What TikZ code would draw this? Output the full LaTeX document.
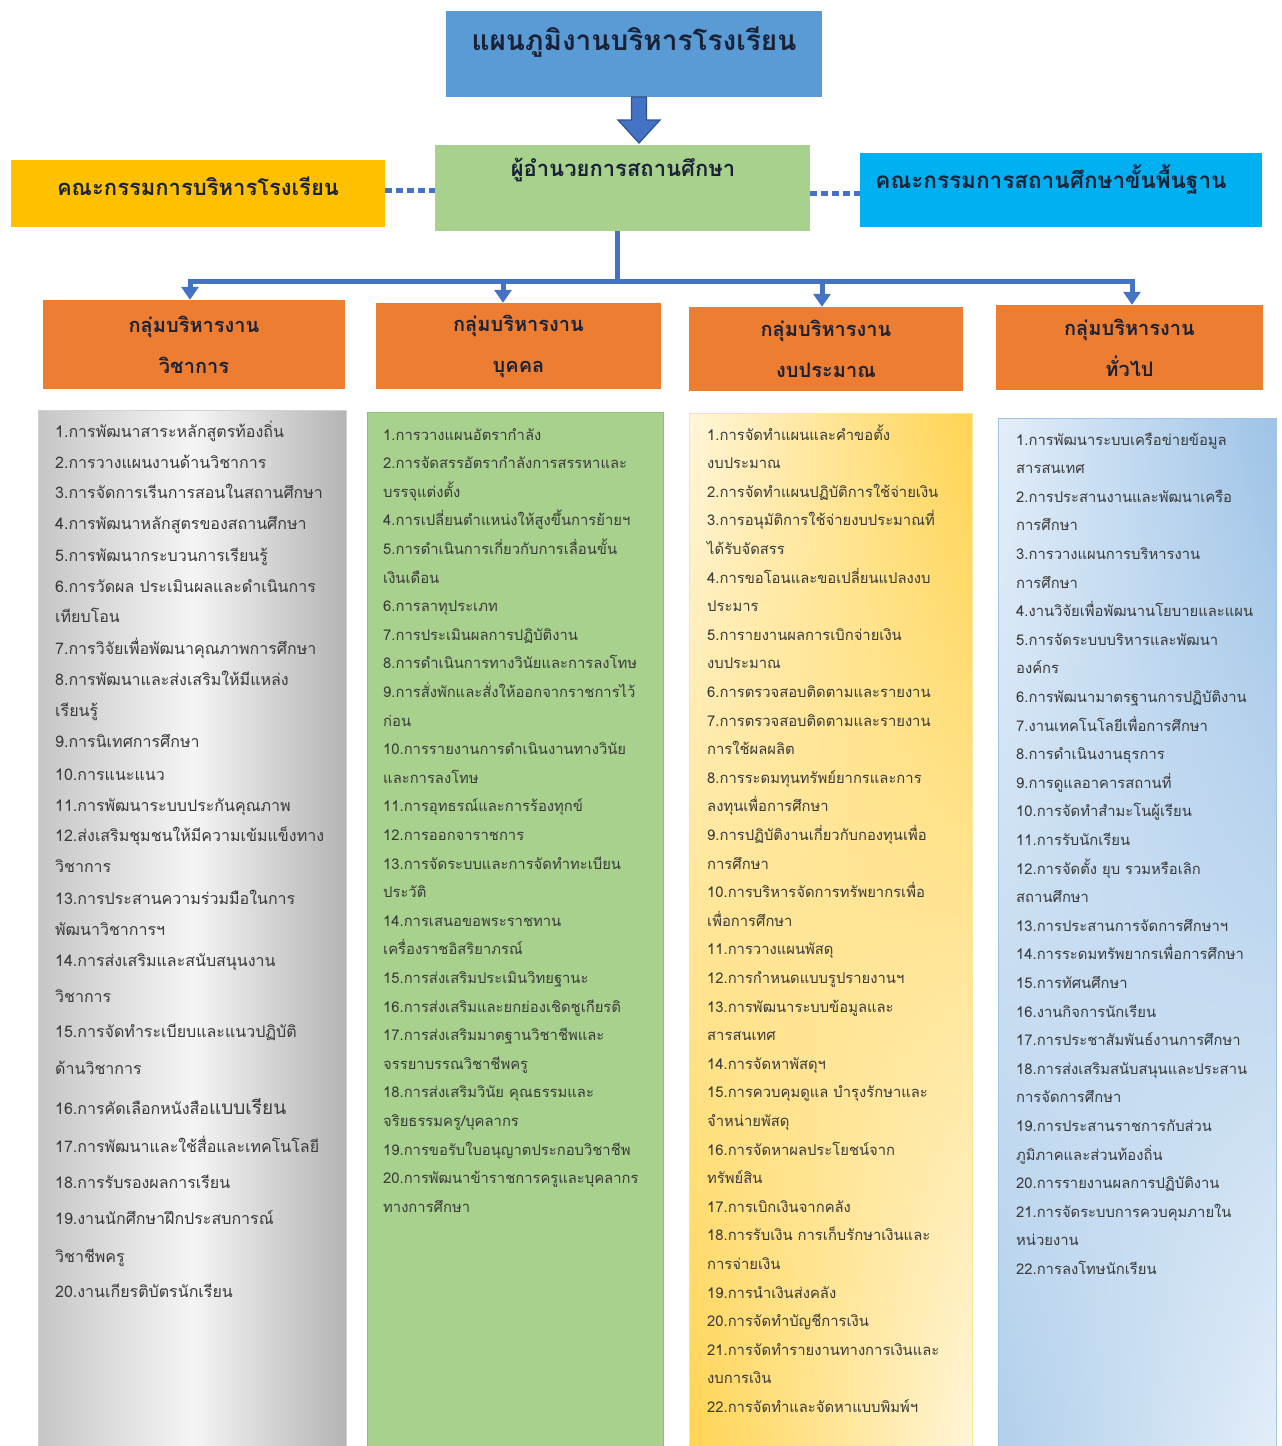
\documentclass[tikz,border=0pt]{standalone}
\usepackage{fontspec}
\newfontfamily\thai[Script=Thai]{Loma}
\usetikzlibrary{arrows.meta,calc,shadings}
\definecolor{titleblue}{HTML}{5B9BD5}
\definecolor{arrowblue}{HTML}{4472C4}
\definecolor{arrowdark}{HTML}{2F528F}
\definecolor{dirgreen}{HTML}{A9D18E}
\definecolor{listgreen}{HTML}{A9D18E}
\definecolor{greenedge}{HTML}{8DBF70}
\definecolor{comyellow}{HTML}{FFC000}
\definecolor{comcyan}{HTML}{00B0F0}
\definecolor{grporange}{HTML}{ED7D31}
\definecolor{headtext}{HTML}{1A2238}
\definecolor{itemtext}{HTML}{3A3A3A}
\definecolor{gold}{HTML}{FFD452}
\definecolor{cream}{HTML}{FFF6DA}
\definecolor{paleblue}{HTML}{E4EEF9}
\definecolor{midblue}{HTML}{9DC3E6}
\definecolor{lgray}{HTML}{C6C6C6}
\definecolor{rgray}{HTML}{B4B4B4}
\tikzset{
  box/.style={rectangle, inner sep=0pt, draw=none},
  head/.style={font=\thai\bfseries\fontsize{22}{26}\selectfont, text=headtext, inner sep=0pt},
  grphead/.style={font=\thai\bfseries\fontsize{20}{41}\selectfont, text=headtext, align=center, inner sep=0pt},
  item/.style={anchor=base west, inner sep=0pt, font=\thai\fontsize{14.8}{17}\selectfont, text=itemtext},
  itemone/.style={item, font=\thai\fontsize{16}{18}\selectfont},
  dotlink/.style={draw=arrowblue, line width=5pt, dash pattern=on 7pt off 4pt},
  tree/.style={draw=arrowblue, line width=5pt},
  treearr/.style={draw=arrowblue, line width=5pt, -{Triangle[width=17pt,length=13pt]}},
}
\begin{document}
\begin{tikzpicture}[x=1pt,y=-1pt]
\useasboundingbox (0,0) rectangle (1282,1446);
\fill[white] (0,0) rectangle (1282,1446);

% top boxes
\node[box, fill=titleblue, minimum width=376pt, minimum height=86pt] (title) at (634,54) {};
\node[head, font=\thai\bfseries\fontsize{28}{32}\selectfont] (titlet) at (634,42) {แผนภูมิงานบริหารโรงเรียน};

\node[box, fill=dirgreen, minimum width=375pt, minimum height=86pt] (dir) at (622.5,188) {};
\node[head] (dirt) at (623,170) {ผู้อำนวยการสถานศึกษา};

\node[box, fill=comyellow, minimum width=374pt, minimum height=67pt] (lcom) at (198,193.5) {};
\node[head] (lcomt) at (198,186) {คณะกรรมการบริหารโรงเรียน};

\node[box, fill=comcyan, minimum width=402pt, minimum height=74pt] (rcom) at (1061,190) {};
\node[head, font=\thai\bfseries\fontsize{22.5}{26}\selectfont] (rcomt) at (1051,180) {คณะกรรมการสถานศึกษาขั้นพื้นฐาน};

% block arrow title -> director
\coordinate (ab) at (639,97);
\filldraw[fill=arrowblue, draw=arrowdark, line width=1.2pt, line join=miter]
  ($(ab)+(-7.5,0)$) -- ($(ab)+(7.5,0)$) -- ($(ab)+(7.5,23)$) -- ($(ab)+(21,23)$)
  -- ($(ab)+(0,46)$) -- ($(ab)+(-21,23)$) -- ($(ab)+(-7.5,23)$) -- cycle;

% dotted links
\draw[dotlink] (lcom.east |- 0,190) -- (dir.west |- 0,190);
\draw[dotlink] (dir.east |- 0,193) -- (rcom.west |- 0,193);

% group boxes
\node[box, fill=grporange, minimum width=302pt, minimum height=89pt] (g1) at (194,344.5) {};
\node[box, fill=grporange, minimum width=285pt, minimum height=86pt] (g2) at (518.5,346) {};
\node[box, fill=grporange, minimum width=274pt, minimum height=84pt] (g3) at (826,349) {};
\node[box, fill=grporange, minimum width=267pt, minimum height=85pt] (g4) at (1129.5,347.5) {};
\node[grphead] (g1t) at (g1) {กลุ่มบริหารงาน\\วิชาการ};
\node[grphead] (g2t) at (g2) {กลุ่มบริหารงาน\\บุคคล};
\node[grphead] (g3t) at (g3) {กลุ่มบริหารงาน\\งบประมาณ};
\node[grphead] (g4t) at (g4) {กลุ่มบริหารงาน\\ทั่วไป};

% tree connectors
\coordinate (bus) at (617,281);
\coordinate (a1) at (190,281);
\coordinate (a2) at (503,281);
\coordinate (a3) at (822,281);
\coordinate (a4) at (1132,281);
\draw[tree] (bus |- dir.south) -- (bus);
\draw[tree, line cap=rect] (a1) -- (a4);
\draw[treearr] (a1) -- (a1 |- g1.north);
\draw[treearr] (a2) -- (a2 |- g2.north);
\draw[treearr] (a3) -- (a3 |- g3.north);
\draw[treearr] (a4) -- (a4 |- g4.north);

% list boxes
\node[box, draw=black!18, line width=0.8pt, left color=lgray, right color=rgray, middle color=white!96!black, minimum width=308pt, minimum height=1040pt, anchor=north west] (l1) at (38,410) {};
\node[box, fill=listgreen, draw=greenedge, line width=1pt, minimum width=296pt, minimum height=1040pt, anchor=north west] (l2) at (367,412) {};
\node[box, draw=gold!60, line width=0.6pt, upper left=cream, upper right=gold, lower left=gold, lower right=cream, minimum width=283pt, minimum height=1040pt, anchor=north west] (l3) at (689,413) {};
\node[box, draw=midblue, line width=0.8pt, upper left=paleblue, upper right=midblue, lower left=midblue!80, lower right=paleblue, minimum width=278pt, minimum height=1040pt, anchor=north west] (l4) at (998,418) {};

% column 1 items
\foreach \y/\t [count=\i] in {
432/1.การพัฒนาสาระหลักสูตรท้องถิ่น,
463/2.การวางแผนงานด้านวิชาการ,
493/3.การจัดการเรีนการสอนในสถานศึกษา,
524/4.การพัฒนาหลักสูตรของสถานศึกษา,
556/5.การพัฒนากระบวนการเรียนรู้,
587/6.การวัดผล ประเมินผลและดำเนินการ,
617/เทียบโอน,
649/7.การวิจัยเพื่อพัฒนาคุณภาพการศึกษา,
680/8.การพัฒนาและส่งเสริมให้มีแหล่ง,
711/เรียนรู้,
742/9.การนิเทศการศึกษา,
775/10.การแนะแนว,
806/11.การพัฒนาระบบประกันคุณภาพ,
836/12.ส่งเสริมชุมชนให้มีความเข้มแข็งทาง,
867/วิชาการ,
899/13.การประสานความร่วมมือในการ,
930/พัฒนาวิชาการฯ,
961/14.การส่งเสริมและสนับสนุนงาน,
997/วิชาการ,
1032/15.การจัดทำระเบียบและแนวปฏิบัติ,
1069/ด้านวิชาการ,
1109/{16.การคัดเลือกหนังสือ{\fontsize{19}{21}\selectfont แบบเรียน}},
1147/17.การพัฒนาและใช้สื่อและเทคโนโลยี,
1183/18.การรับรองผลการเรียน,
1219/19.งานนักศึกษาฝึกประสบการณ์,
1257/วิชาชีพครู,
1292/20.งานเกียรติบัตรนักเรียน}
{\node[itemone] (c1-\i) at (55,\y+5) {\t};}

% column 2 items
\foreach \t [count=\i] in {
1.การวางแผนอัตรากำลัง,
2.การจัดสรรอัตรากำลังการสรรหาและ,
บรรจุแต่งตั้ง,
4.การเปลี่ยนตำแหน่งให้สูงขึ้นการย้ายฯ,
5.การดำเนินการเกี่ยวกับการเลื่อนขั้น,
เงินเดือน,
6.การลาทุประเภท,
7.การประเมินผลการปฏิบัติงาน,
8.การดำเนินการทางวินัยและการลงโทษ,
9.การสั่งพักและสั่งให้ออกจากราชการไว้,
ก่อน,
10.การรายงานการดำเนินงานทางวินัย,
และการลงโทษ,
11.การอุทธรณ์และการร้องทุกข์,
12.การออกจาราชการ,
13.การจัดระบบและการจัดทำทะเบียน,
ประวัติ,
14.การเสนอขอพระราชทาน,
เครื่องราชอิสริยาภรณ์,
15.การส่งเสริมประเมินวิทยฐานะ,
16.การส่งเสริมและยกย่องเชิดชูเกียรติ,
17.การส่งเสริมมาตฐานวิชาชีพและ,
จรรยาบรรณวิชาชีพครู,
18.การส่งเสริมวินัย คุณธรรมและ,
จริยธรรมครู/บุคลากร,
19.การขอรับใบอนุญาตประกอบวิชาชีพ,
20.การพัฒนาข้าราชการครูและบุคลากร,
ทางการศึกษา}
{\node[item] (c2-\i) at (383,{440+(\i-1)*28.6}) {\t};}

% column 3 items
\foreach \t [count=\i] in {
1.การจัดทำแผนและคำขอตั้ง,
งบประมาณ,
2.การจัดทำแผนปฏิบัติการใช้จ่ายเงิน,
3.การอนุมัติการใช้จ่ายงบประมาณที่,
ได้รับจัดสรร,
4.การขอโอนและขอเปลี่ยนแปลงงบ,
ประมาร,
5.การายงานผลการเบิกจ่ายเงิน,
งบประมาณ,
6.การตรวจสอบติดตามและรายงาน,
7.การตรวจสอบติดตามและรายงาน,
การใช้ผลผลิต,
8.การระดมทุนทรัพย์ยากรและการ,
ลงทุนเพื่อการศึกษา,
9.การปฏิบัติงานเกี่ยวกับกองทุนเพื่อ,
การศึกษา,
10.การบริหารจัดการทรัพยากรเพื่อ,
เพื่อการศึกษา,
11.การวางแผนพัสดุ,
12.การกำหนดแบบรูปรายงานฯ,
13.การพัฒนาระบบข้อมูลและ,
สารสนเทศ,
14.การจัดหาพัสดุฯ,
15.การควบคุมดูแล บำรุงรักษาและ,
จำหน่ายพัสดุ,
16.การจัดหาผลประโยชน์จาก,
ทรัพย์สิน,
17.การเบิกเงินจากคลัง,
18.การรับเงิน การเก็บรักษาเงินและ,
การจ่ายเงิน,
19.การนำเงินส่งคลัง,
20.การจัดทำบัญชีการเงิน,
21.การจัดทำรายงานทางการเงินและ,
งบการเงิน,
22.การจัดทำและจัดหาแบบพิมพ์ฯ}
{\node[item] (c3-\i) at (707,{440+(\i-1)*28.6}) {\t};}

% column 4 items
\foreach \t [count=\i] in {
1.การพัฒนาระบบเครือข่ายข้อมูล,
สารสนเทศ,
2.การประสานงานและพัฒนาเครือ,
การศึกษา,
3.การวางแผนการบริหารงาน,
การศึกษา,
4.งานวิจัยเพื่อพัฒนานโยบายและแผน,
5.การจัดระบบบริหารและพัฒนา,
องค์กร,
6.การพัฒนามาตรฐานการปฏิบัติงาน,
7.งานเทคโนโลยีเพื่อการศึกษา,
8.การดำเนินงานธุรการ,
9.การดูแลอาคารสถานที่,
10.การจัดทำสำมะโนผู้เรียน,
11.การรับนักเรียน,
12.การจัดตั้ง ยุบ รวมหรือเลิก,
สถานศึกษา,
13.การประสานการจัดการศึกษาฯ,
14.การระดมทรัพยากรเพื่อการศึกษา,
15.การทัศนศึกษา,
16.งานกิจการนักเรียน,
17.การประชาสัมพันธ์งานการศึกษา,
18.การส่งเสริมสนับสนุนและประสาน,
การจัดการศึกษา,
19.การประสานราชการกับส่วน,
ภูมิภาคและส่วนท้องถิ่น,
20.การรายงานผลการปฏิบัติงาน,
21.การจัดระบบการควบคุมภายใน,
หน่วยงาน,
22.การลงโทษนักเรียน}
{\node[item] (c4-\i) at (1016,{445+(\i-1)*28.6}) {\t};}
\end{tikzpicture}
\end{document}
